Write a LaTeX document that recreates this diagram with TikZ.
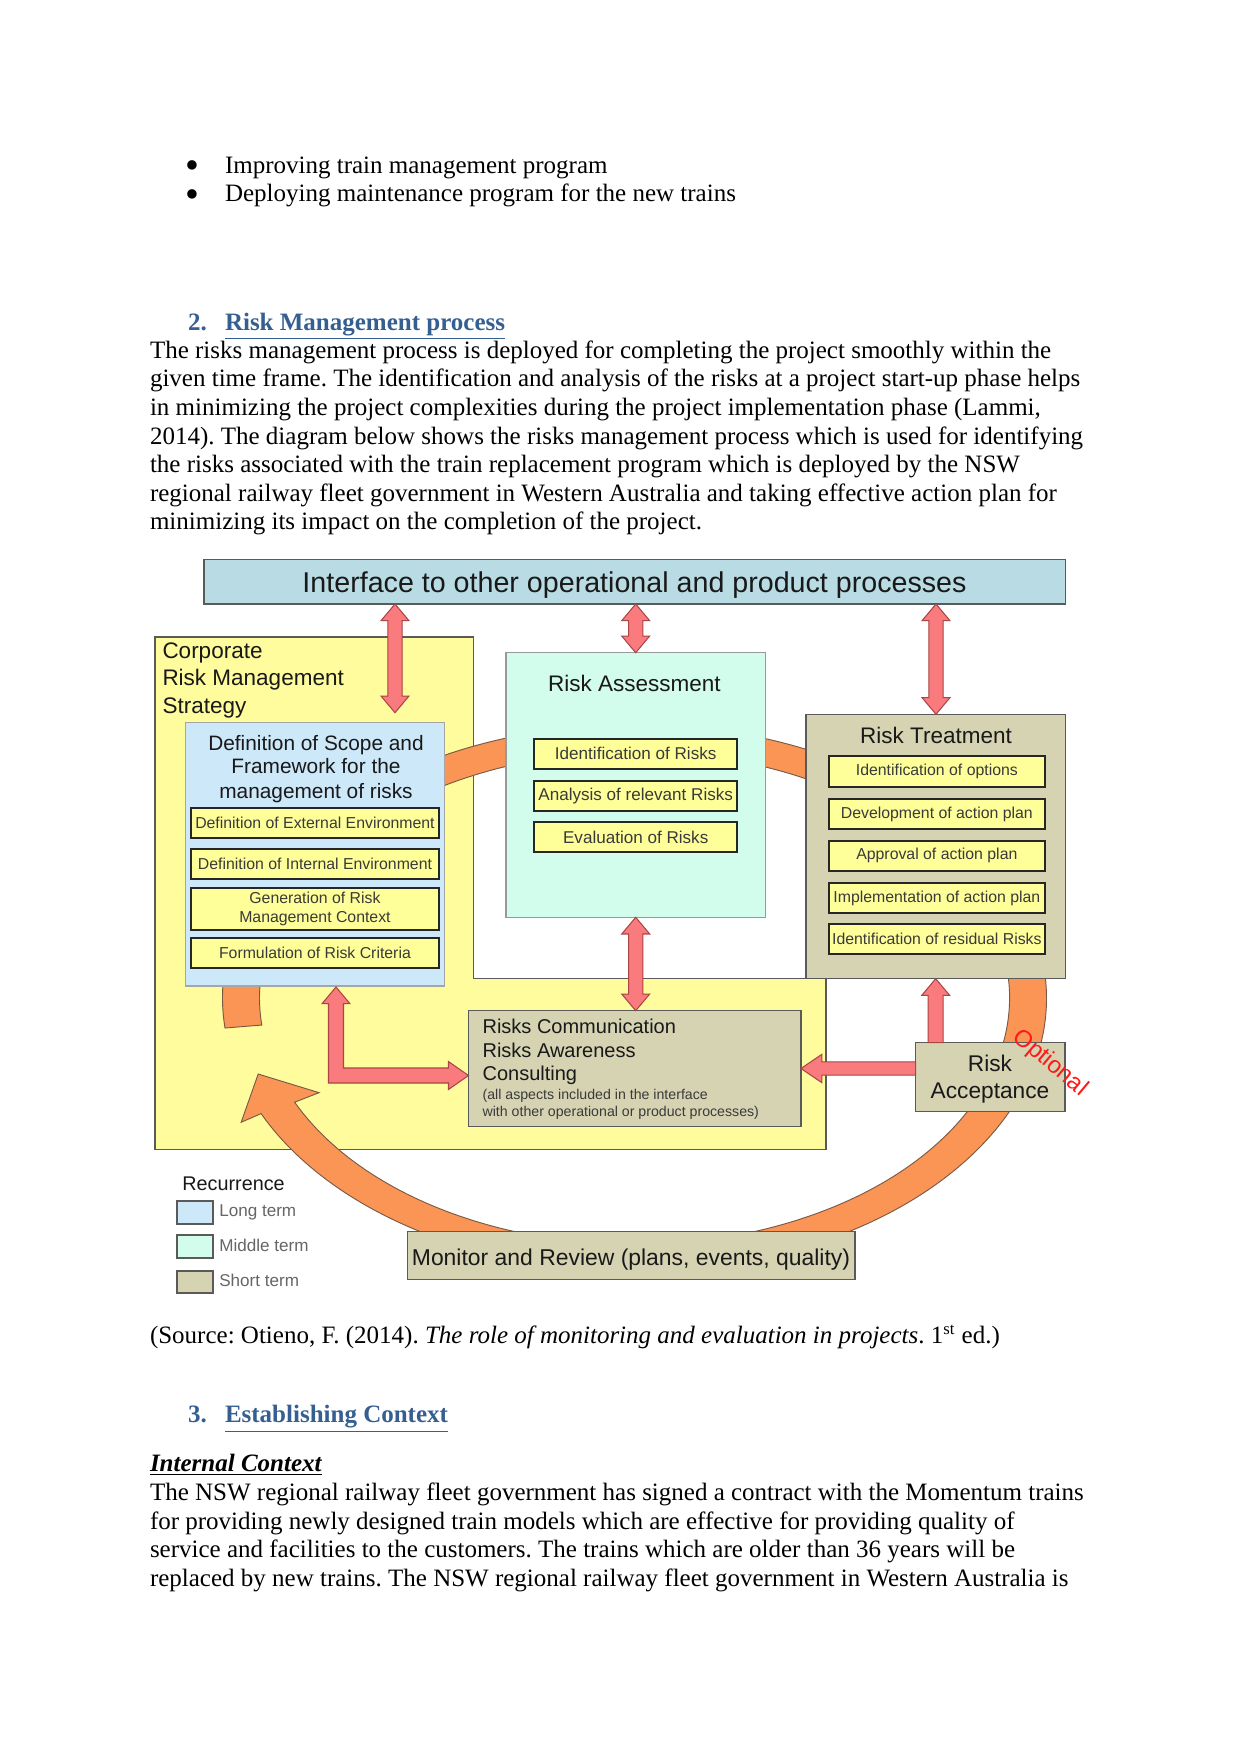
\documentclass[tikz,border=0pt]{standalone}
\usepackage{fontspec}
\setmainfont{Liberation Serif}
\newfontfamily\arialf{Liberation Sans}
\usetikzlibrary{calc}
\frenchspacing
\definecolor{headblue}{HTML}{365F91}
\definecolor{ifc}{HTML}{B9DCE4}
\definecolor{corp}{HTML}{FFFC9E}
\definecolor{lblue}{HTML}{CCE8F9}
\definecolor{mint}{HTML}{D2FCEB}
\definecolor{khaki}{HTML}{D5D3B2}
\definecolor{ybox}{HTML}{FFFF99}
\definecolor{pinkf}{HTML}{FA7B7E}
\definecolor{pinkd}{HTML}{A94545}
\definecolor{orf}{HTML}{FA9556}
\definecolor{ord}{HTML}{7A5A45}
\definecolor{boxd}{HTML}{5A5A5A}
\definecolor{txtg}{HTML}{3A3A3A}
\definecolor{optred}{HTML}{FF1A1A}

\newcommand\bx[7]{\node[#6, minimum width={(#4-#2)*0.48pt}, minimum height={(#5-#3)*0.48pt}] (#1) at ({(#2+#4)/2},{(#3+#5)/2}) {#7};}

% vertical double block arrow: #1 top tip, #2 bottom tip
\newcommand\vdarrow[2]{\path[arrowsty] let \p1=(#1), \p2=(#2) in
 (\x1,\y1) -- (\x1+6.7pt,\y1-8pt) -- (\x1+3.4pt,\y1-8pt) -- (\x1+3.4pt,\y2+8pt) -- (\x1+6.7pt,\y2+8pt) -- (\x1,\y2)
 -- (\x1-6.7pt,\y2+8pt) -- (\x1-3.4pt,\y2+8pt) -- (\x1-3.4pt,\y1-8pt) -- (\x1-6.7pt,\y1-8pt) -- cycle;}
% single block arrow up: #1 tip (top), #2 tail (bottom)
\newcommand\uparrowblk[2]{\path[arrowsty] let \p1=(#1), \p2=(#2) in
 (\x1,\y1) -- (\x1+6.7pt,\y1-8pt) -- (\x1+3.6pt,\y1-8pt) -- (\x1+3.6pt,\y2) -- (\x1-3.6pt,\y2) -- (\x1-3.6pt,\y1-8pt) -- (\x1-6.7pt,\y1-8pt) -- cycle;}
% single block arrow left: #1 tip (left), #2 tail (right)
\newcommand\leftarrowblk[2]{\path[arrowsty] let \p1=(#1), \p2=(#2) in
 (\x1,\y1) -- (\x1+10pt,\y1+6.8pt) -- (\x1+10pt,\y1+3.2pt) -- (\x2,\y1+3.2pt) -- (\x2,\y1-3.2pt) -- (\x1+10pt,\y1-3.2pt) -- (\x1+10pt,\y1-6.8pt) -- cycle;}
% L-shaped double block arrow: #1 up tip, #2 right tip
\newcommand\larrowblk[2]{\path[arrowsty] let \p1=(#1), \p2=(#2) in
 (\x1,\y1) -- (\x1+6.7pt,\y1-8pt) -- (\x1+3.6pt,\y1-8pt) -- (\x1+3.6pt,\y2+3.6pt) -- (\x2-9.6pt,\y2+3.6pt) -- (\x2-9.6pt,\y2+6.7pt) -- (\x2,\y2)
 -- (\x2-9.6pt,\y2-6.7pt) -- (\x2-9.6pt,\y2-3.6pt) -- (\x1-3.6pt,\y2-3.6pt) -- (\x1-3.6pt,\y1-8pt) -- (\x1-6.7pt,\y1-8pt) -- cycle;}

\begin{document}
\begin{tikzpicture}[x=0.48pt,y=-0.48pt,
 every node/.style={inner sep=0pt, outer sep=0pt},
 body/.style={anchor=base west, font=\fontsize{12}{14}\selectfont},
 bulletsty/.style={anchor=center, font=\fontsize{19}{19}\selectfont},
 headnum/.style={anchor=base west, font=\fontsize{12}{14}\selectfont\bfseries, text=headblue},
 bigbox/.style={draw=boxd, line width=0.6pt},
 smallbox/.style={draw=black!85, line width=1pt, fill=ybox, align=center, text=txtg, font=\arialf\fontsize{7.6}{9.4}\selectfont},
 rabox/.style={smallbox, font=\arialf\fontsize{8.2}{10}\selectfont},
 dtext/.style={font=\arialf\fontsize{10.8}{13}\selectfont, text=black!90},
 arrowsty/.style={fill=pinkf, draw=pinkd, line width=0.5pt, line join=miter},
 ringsty/.style={fill=orf, draw=ord, line width=0.45pt},
 legbox/.style={draw=boxd, line width=0.8pt},
 legtext/.style={anchor=base west, font=\arialf\fontsize{8.2}{10}\selectfont, text=black!60}
]
\fill[white] (0,0) rectangle (1241,1754);
\useasboundingbox (0,0) rectangle (1241,1754);

% ---------- body text above ----------
\node[bulletsty] (b1) at (192,169.5) {•};
\node[body] (t1) at (225,173.3) {Improving train management program};
\node[bulletsty] (b2) at (192,199) {•};
\node[body] (t2) at (225,201.7) {Deploying maintenance program for the new trains};
\node[headnum] (h2n) at (188,330) {2.};
\node[headnum] (h2) at (225,330) {\underline{Risk Management process}};
\node[body] (p1) at (150,358.3) {The risks management process is deployed for completing the project smoothly within the};
\node[body] (p2) at (150,386.7) {given time frame. The identification and analysis of the risks at a project start-up phase helps};
\node[body] (p3) at (150,415) {in minimizing the project complexities during the project implementation phase (Lammi,};
\node[body] (p4) at (150,444) {2014). The diagram below shows the risks management process which is used for identifying};
\node[body] (p5) at (150,472.7) {the risks associated with the train replacement program which is deployed by the NSW};
\node[body] (p6) at (150,501) {regional railway fleet government in Western Australia and taking effective action plan for};
\node[body] (p7) at (150,529.3) {minimizing its impact on the completion of the project.};

% ---------- diagram ----------
\bx{iface}{204}{559.5}{1065.5}{604}{bigbox, fill=ifc}{}
\node[dtext, font=\arialf\fontsize{13.75}{16}\selectfont, anchor=base] (ifacet) at (634.5,592.7) {Interface to other operational and product processes};

\draw[bigbox, fill=corp] (155,637) -- (473.4,637) -- (473.4,978.5) -- (826,978.5) -- (826,1149.5) -- (155,1149.5) -- cycle;

% orange cycle
\begin{scope}[shift={(634.5,998)}]
\path[ringsty] (173.7:412 and 273.5) arc[start angle=173.7, end angle=515, x radius=412, y radius=273.5]
 -- (155:434 and 294) -- (163:393.5 and 260) -- (155:348 and 224) -- (155:375 and 246.5)
 arc[start angle=515, end angle=173.7, x radius=375, y radius=246.5] -- cycle;
\end{scope}

\node[dtext, anchor=base west] (corp1) at (162.5,658.3) {Corporate};
\node[dtext, anchor=base west] (corp2) at (162.5,685.7) {Risk Management};
\node[dtext, anchor=base west] (corp3) at (162.5,713) {Strategy};

% long term box
\bx{blue}{185.7}{722.3}{444.6}{986}{draw=black!35, line width=0.6pt, fill=lblue}{}
\node[dtext, font=\arialf\fontsize{10}{12}\selectfont, anchor=base] (bt1) at (316,750) {Definition of Scope and};
\node[dtext, font=\arialf\fontsize{10}{12}\selectfont, anchor=base] (bt2) at (316,773.3) {Framework for the};
\node[dtext, font=\arialf\fontsize{10}{12}\selectfont, anchor=base] (bt3) at (316,798.3) {management of risks};
\bx{ext}{191.3}{807.7}{438.6}{837.7}{smallbox}{Definition of External Environment}
\bx{int}{191.3}{849}{438.6}{879.3}{smallbox}{Definition of Internal Environment}
\bx{gen}{191.3}{887.7}{438.6}{930}{smallbox}{Generation of Risk\\Management Context}
\bx{form}{191.3}{938.3}{438.6}{968.3}{smallbox}{Formulation of Risk Criteria}

% risk assessment
\bx{ra}{506}{652.7}{765.4}{917.3}{draw=black!40, line width=0.6pt, fill=mint}{}
\node[dtext, anchor=base] (rat) at (634.5,691) {Risk Assessment};
\bx{ra1}{534.4}{739}{737}{768.7}{rabox}{Identification of Risks}
\bx{ra2}{534.4}{780.7}{737}{810.7}{rabox}{Analysis of relevant Risks}
\bx{ra3}{534.4}{822}{737}{852.3}{rabox}{Evaluation of Risks}

% risk treatment
\bx{rt}{806}{714.3}{1065.4}{978.7}{bigbox, fill=khaki}{}
\node[dtext, anchor=base] (rtt) at (936,743.3) {Risk Treatment};
\bx{rt1}{828.7}{756}{1045}{786.7}{smallbox}{Identification of options}
\bx{rt2}{828.7}{799}{1045}{829}{smallbox}{Development of action plan}
\bx{rt3}{828.7}{840.7}{1045}{870.7}{smallbox}{Approval of action plan}
\bx{rt4}{828.7}{883}{1045}{913}{smallbox}{Implementation of action plan}
\bx{rt5}{828.7}{924}{1045}{954.3}{smallbox}{Identification of residual Risks}

% communication
\bx{rc}{468.5}{1010.7}{801}{1126.3}{bigbox, fill=khaki}{}
\node[dtext, font=\arialf\fontsize{9.6}{12}\selectfont, anchor=base west] (rc1) at (482.6,1033.3) {Risks Communication};
\node[dtext, font=\arialf\fontsize{9.6}{12}\selectfont, anchor=base west] (rc2) at (482.6,1057.3) {Risks Awareness};
\node[dtext, font=\arialf\fontsize{9.6}{12}\selectfont, anchor=base west] (rc3) at (482.6,1080) {Consulting};
\node[anchor=base west, font=\arialf\fontsize{6.8}{8}\selectfont, text=txtg] (rc4) at (482.6,1099) {(all aspects included in the interface};
\node[anchor=base west, font=\arialf\fontsize{6.8}{8}\selectfont, text=txtg] (rc5) at (482.6,1116) {with other operational or product processes)};

% acceptance
\bx{acc}{915.6}{1042.7}{1065}{1111.7}{bigbox, fill=khaki}{}
\node[dtext, font=\arialf\fontsize{10.9}{13}\selectfont, anchor=base] (acc1) at (990,1071.7) {Risk};
\node[dtext, font=\arialf\fontsize{10.9}{13}\selectfont, anchor=base] (acc2) at (990,1098.3) {Acceptance};

% monitor
\bx{mon}{407.5}{1231.7}{855}{1279.5}{bigbox, fill=khaki}{}
\node[dtext, font=\arialf\fontsize{11}{13}\selectfont, anchor=base] (mont) at (631,1265) {Monitor and Review (plans, events, quality)};

% legend
\node[dtext, font=\arialf\fontsize{9.5}{11}\selectfont, anchor=base west] (rec) at (182.4,1190) {Recurrence};
\bx{lg1}{177.3}{1200.7}{212.7}{1224}{legbox, fill=lblue}{}
\bx{lg2}{177.3}{1235}{212.7}{1258.3}{legbox, fill=mint}{}
\bx{lg3}{177.3}{1270.7}{212.7}{1293.3}{legbox, fill=khaki}{}
\node[legtext] (lgt1) at (219.3,1216.7) {Long term};
\node[legtext] (lgt2) at (219.3,1251.7) {Middle term};
\node[legtext] (lgt3) at (219.3,1286) {Short term};

% block arrows
\coordinate (a1b) at (395,712.7);
\coordinate (a3b) at (936,712.7);
\coordinate (a7u) at (336,987);
\coordinate (a7c) at (336,1075.5);
\vdarrow{a1b |- iface.south}{a1b}
\vdarrow{ra.north |- iface.south}{ra.north}
\vdarrow{a3b |- iface.south}{rt.north}
\vdarrow{ra.south}{ra.south |- rc.north}
\uparrowblk{rt.south}{rt.south |- acc.north}
\leftarrowblk{rc.east}{acc.west |- rc.east}
\larrowblk{a7u}{a7c -| rc.west}

\node[rotate=-40, text=optred, font=\arialf\fontsize{11.5}{13}\selectfont] (opt) at (1050,1063) {Optional};

% ---------- body text below ----------
\node[body] (src) at (150,1343.3) {(Source: Otieno, F. (2014). \textit{The role of monitoring and evaluation in projects}. 1\textsuperscript{st} ed.)};
\node[headnum] (h3n) at (188,1422.7) {3.};
\node[headnum] (h3) at (225,1422.7) {\underline{Establishing Context}};
\node[body, font=\fontsize{12}{14}\selectfont\bfseries\itshape] (ic) at (150,1471.7) {\underline{Internal Context}};
\node[body] (q1) at (150,1500) {The NSW regional railway fleet government has signed a contract with the Momentum trains};
\node[body] (q2) at (150,1529.3) {for providing newly designed train models which are effective for providing quality of};
\node[body] (q3) at (150,1557.7) {service and facilities to the customers. The trains which are older than 36 years will be};
\node[body] (q4) at (150,1586) {replaced by new trains. The NSW regional railway fleet government in Western Australia is};
\end{tikzpicture}
\end{document}
